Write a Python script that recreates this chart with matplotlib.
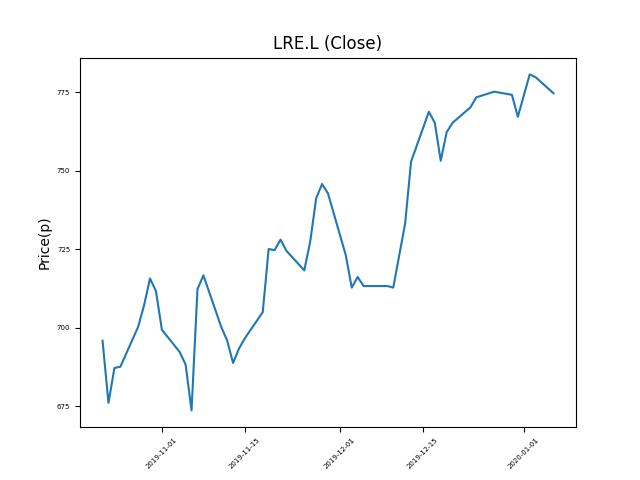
import pandas as pd
import matplotlib
matplotlib.use("Agg")
import matplotlib.pyplot as plt
from matplotlib.ticker import MultipleLocator

# daily closing prices (trading days only)
dates = [
    "2019-10-22", "2019-10-23", "2019-10-24", "2019-10-25", "2019-10-28",
    "2019-10-29", "2019-10-30", "2019-10-31", "2019-11-01", "2019-11-04",
    "2019-11-05", "2019-11-06", "2019-11-07", "2019-11-08", "2019-11-11",
    "2019-11-12", "2019-11-13", "2019-11-14", "2019-11-15", "2019-11-18",
    "2019-11-19", "2019-11-20", "2019-11-21", "2019-11-22", "2019-11-25",
    "2019-11-26", "2019-11-27", "2019-11-28", "2019-11-29", "2019-12-02",
    "2019-12-03", "2019-12-04", "2019-12-05", "2019-12-06", "2019-12-09",
    "2019-12-10", "2019-12-11", "2019-12-12", "2019-12-13", "2019-12-16",
    "2019-12-17", "2019-12-18", "2019-12-19", "2019-12-20", "2019-12-23",
    "2019-12-24", "2019-12-27", "2019-12-30", "2019-12-31", "2020-01-02",
    "2020-01-03", "2020-01-06",
]
close = [
    695.9, 676.1, 687.2, 687.6, 700.3,
    707.2, 715.7, 711.7, 699.4, 692.3,
    688.3, 673.7, 712.3, 716.7, 700.3,
    696.0, 688.8, 693.4, 696.7, 705.0,
    725.1, 724.7, 728.1, 724.5, 718.3,
    727.4, 741.2, 745.8, 742.8, 723.1,
    712.8, 716.2, 713.3, 713.3, 713.3,
    712.8, 723.0, 733.2, 752.9, 768.8,
    765.3, 753.2, 762.3, 765.3, 770.2,
    773.4, 775.2, 774.2, 767.2, 780.7,
    779.8, 774.7,
]

df = pd.DataFrame({"Close": close}, index=pd.to_datetime(dates))

fig, ax = plt.subplots(figsize=(6.4, 4.8), dpi=100)
ax.plot(df.index, df["Close"])
ax.set_title("LRE.L (Close)")
ax.set_ylabel("Price(p)")
ax.yaxis.set_major_locator(MultipleLocator(25))
plt.xticks(rotation=45, fontsize=5)
plt.yticks(fontsize=5)

plt.savefig("out.png")
